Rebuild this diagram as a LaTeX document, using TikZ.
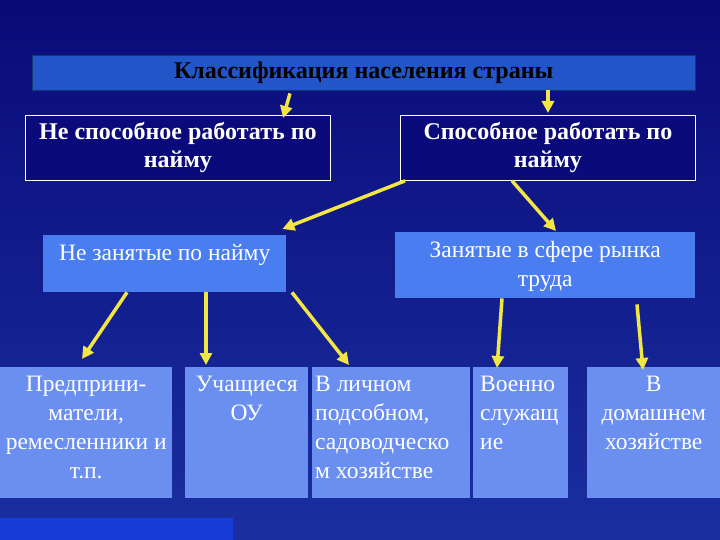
\documentclass[tikz,border=0pt]{standalone}
\usepackage{fontspec}
\setmainfont{Liberation Serif}
\usetikzlibrary{arrows.meta,calc}
\definecolor{bgA}{HTML}{0A0A78}
\definecolor{bgB}{HTML}{1A2FA0}
\definecolor{barc}{HTML}{2256C8}
\definecolor{navy}{HTML}{0A0A7A}
\definecolor{midc}{HTML}{4A7EF0}
\definecolor{lowc}{HTML}{6A8FF0}
\definecolor{arr}{HTML}{F2E645}
\begin{document}
\begin{tikzpicture}[x=1pt,y=-1pt,
  bx/.style={anchor=north west,inner sep=0pt,font=\fontsize{24}{29}\selectfont,align=center},
  tx/.style={text=white,font=\fontsize{23.5}{29}\selectfont,inner sep=0pt},
  ar/.style={draw=arr,line width=3.5pt,-{Triangle[width=12pt,length=12pt]}}]
\shade[top color=bgA,bottom color=bgB] (0,0) rectangle (720,540);
\useasboundingbox (0,0) rectangle (720,540);
\fill[barc!70!blue] (0,518) rectangle (233,540);
\node[bx,fill=barc,draw=barc!60!black,minimum width=663,minimum height=35,font=\bfseries\fontsize{24}{26}\selectfont] (top) at (32,55) {Классификация населения страны};
\node[bx,fill=navy,draw=white,line width=0.8pt,minimum width=305,minimum height=65,font=\bfseries\fontsize{24}{28}\selectfont,text=white] (l1) at (25,115) {Не способное работать по\\найму};
\node[bx,fill=navy,draw=white,line width=0.8pt,minimum width=295,minimum height=65,font=\bfseries\fontsize{24}{28}\selectfont,text=white] (r1) at (400,115) {Способное работать по\\найму};
\node[bx,fill=midc,minimum width=243,minimum height=57] (l2) at (43,235) {};
\node[tx,anchor=north] at ([yshift=-9pt]l2.north) {Не занятые по найму};
\node[bx,fill=midc,minimum width=300,minimum height=66] (r2) at (395,232) {};
\node[tx,anchor=north,align=center] at ([yshift=-9pt]r2.north) {Занятые в сфере рынка\\труда};
\foreach \n/\x/\w in {b1/0/172,b2/185/123,b3/312/158,b4/473/95,b5/587/133}
  \node[bx,fill=lowc,minimum width=\w,minimum height=131] (\n) at (\x,367) {};
\node[tx,anchor=north,align=center] at ([yshift=-9pt]b1.north) {Предприни-\\матели,\\ремесленники и\\т.п.};
\node[tx,anchor=north,align=center] at ([yshift=-9pt]b2.north) {Учащиеся\\ОУ};
\node[tx,anchor=north west,align=left] at ([yshift=-9pt,xshift=3pt]b3.north west) {В личном\\подсобном,\\садоводческо\\м хозяйстве};
\node[tx,anchor=north west,align=left] at ([yshift=-9pt,xshift=7pt]b4.north west) {Военно\\служащ\\ие};
\node[tx,anchor=north,align=center] at ([yshift=-9pt]b5.north) {В\\домашнем\\хозяйстве};
\draw[ar] ($(top.south west)+(258,3)$) -- ($(l1.north west)+(258,3)$);
\draw[ar] ($(top.south west)+(516,0)$) -- ($(r1.north west)+(148,-2)$);
\draw[ar] ($(r1.south west)+(5,0)$) -- ($(l2.north east)+(-4,-6)$);
\draw[ar] ($(r1.south west)+(112,0)$) -- ($(r2.north west)+(161,-1)$);
\draw[ar] ($(l2.south west)+(84,0)$) -- ($(b1.north west)+(82,-8)$);
\draw[ar] ($(l2.south west)+(163,0)$) -- ($(b2.north west)+(21,-2)$);
\draw[ar] ($(l2.south west)+(249,0)$) -- ($(b3.north west)+(37,-2)$);
\draw[ar] ($(r2.south west)+(107,0)$) -- ($(b4.north west)+(24,1)$);
\draw[ar] ($(r2.south west)+(242,6)$) -- ($(b5.north west)+(56,3)$);
\end{tikzpicture}
\end{document}
